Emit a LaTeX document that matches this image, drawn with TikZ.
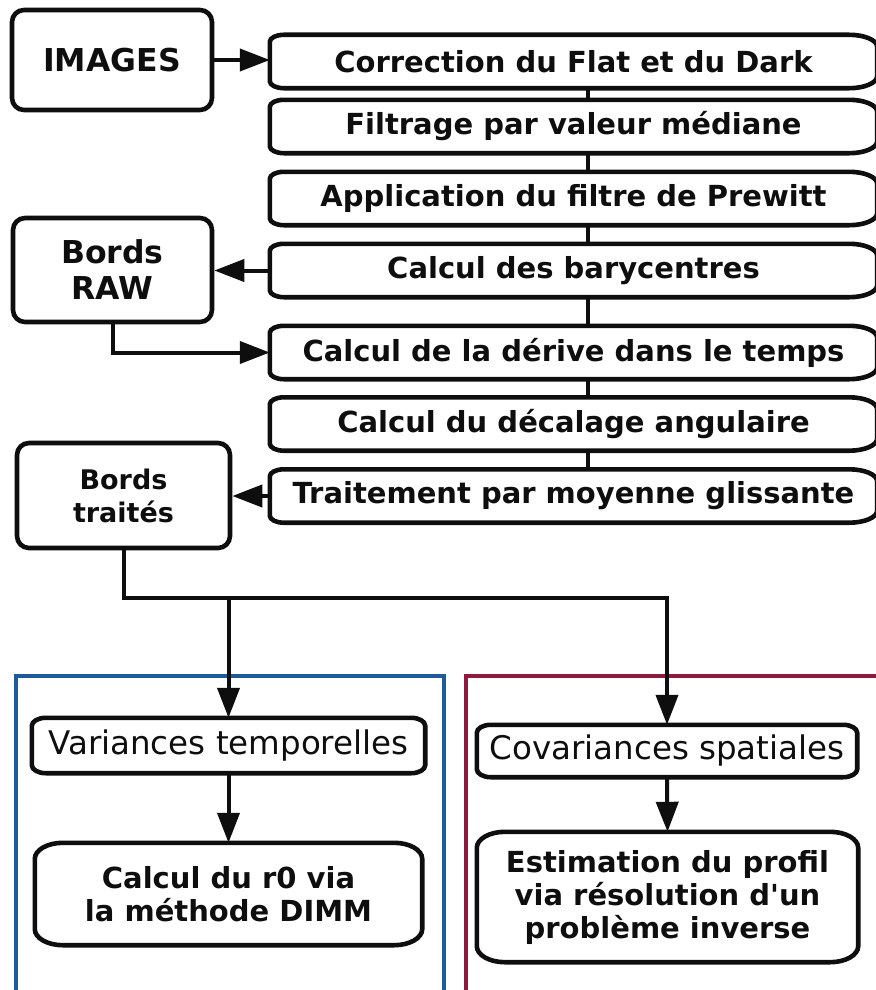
\documentclass[tikz,border=0pt]{standalone}
\usepackage{fontspec}
\newfontfamily\dv{DejaVu Sans}
\usetikzlibrary{arrows.meta,calc}
\definecolor{frblue}{HTML}{1F5A9C}
\definecolor{frred}{HTML}{8E1B3E}
\definecolor{ink}{HTML}{0E0E0E}
% shape with elliptic corners: name, left rx, left ry, right rx, right ry
\newcommand\scrollshape[5]{%
  \draw[boxline] let \p1=(#1.north west), \p2=(#1.south east) in
   (\x1,\y2+#3) -- (\x1,\y1-#3)
   .. controls (\x1,\y1-0.45*#3) and (\x1+0.45*#2,\y1) .. (\x1+#2,\y1)
   -- (\x2-#4,\y1)
   .. controls (\x2-0.45*#4,\y1) and (\x2,\y1-0.45*#5) .. (\x2,\y1-#5)
   -- (\x2,\y2+#5)
   .. controls (\x2,\y2+0.45*#5) and (\x2-0.45*#4,\y2) .. (\x2-#4,\y2)
   -- (\x1+#2,\y2)
   .. controls (\x1+0.45*#2,\y2) and (\x1,\y2+0.45*#3) .. cycle;}
\begin{document}
\begin{tikzpicture}[x=1pt,y=-1pt,
  every node/.style={inner sep=0pt},
  boxline/.style={draw=ink,line width=4.6pt},
  lbl/.style={text=ink,align=center},
  proc/.style={lbl,minimum width=607pt,minimum height=53pt,font=\dv\bfseries\fontsize{29}{33}\selectfont},
  sidebox/.style={lbl,boxline,rounded corners=12pt},
  soft/.style={lbl,font=\dv\fontsize{32.5}{36}\selectfont},
  res/.style={lbl,font=\dv\bfseries\fontsize{29}{33}\selectfont},
  conn/.style={draw=ink,line width=4pt},
  tip/.style={-{Triangle[length=30pt,width=22pt]}},
  frame/.style={line width=3.6pt}]
\useasboundingbox (0,0) rectangle (875,990);

% frames
\draw[frame,frblue] (444,1005) -- (444,676) -- (16,676) -- (16,1005);
\draw[frame,frred] (466,1005) -- (466,676) -- (880,676);

% left boxes
\node[sidebox,minimum width=200pt,minimum height=100pt,font=\dv\bfseries\fontsize{31.5}{36}\selectfont] (img) at (112,60) {IMAGES};
\node[sidebox,minimum width=199pt,minimum height=104pt,font=\dv\bfseries\fontsize{31.5}{36}\selectfont] (raw) at (112.5,270) {Bords\\RAW};
\node[sidebox,minimum width=213pt,minimum height=105pt,font=\dv\bfseries\fontsize{27}{33}\selectfont] (tr) at (123.5,495.5) {Bords\\traités};

% process chain
\node[proc] (p1) at (573.5,61.5) {Correction du Flat et du Dark};
\node[proc] (p2) at (573.5,126.5) {Filtrage par valeur médiane};
\node[proc] (p3) at (573.5,198.5) {Application du filtre de Prewitt};
\node[proc] (p4) at (573.5,270.5) {Calcul des barycentres};
\node[proc] (p5) at (573.5,352.5) {Calcul de la dérive dans le temps};
\node[proc] (p6) at (573.5,424) {Calcul du décalage angulaire};
\node[proc] (p7) at (573.5,496) {Traitement par moyenne glissante};
\foreach \bx in {p1,p2,p3,p4,p5,p6,p7} {\scrollshape{\bx}{14pt}{7pt}{28pt}{12pt}}

% lower boxes
\node[soft,minimum width=393pt,minimum height=55pt] (var) at (228.5,745.5) {Variances temporelles};
\node[soft,minimum width=380pt,minimum height=52pt] (cov) at (667,751) {Covariances spatiales};
\node[res,minimum width=387pt,minimum height=102pt] (r0) at (228.5,894) {Calcul du r0 via\\la méthode DIMM};
\node[res,minimum width=381pt,minimum height=130pt] (est) at (667.5,897) {Estimation du profil\\via résolution d'un\\problème inverse};
\scrollshape{var}{14pt}{8pt}{14pt}{8pt}
\scrollshape{cov}{14pt}{8pt}{14pt}{8pt}
\scrollshape{r0}{28pt}{16pt}{28pt}{16pt}
\scrollshape{est}{28pt}{16pt}{28pt}{16pt}

% connectors
\coordinate (vx) at (588,0);
\coordinate (hy) at (0,598);
\foreach \a/\b in {p1/p2,p2/p3,p3/p4,p4/p5,p5/p6,p6/p7}
  {\draw[conn] (\a.south -| vx) -- (\b.north -| vx);}
\draw[conn,tip] (img.east) -- (img.east -| p1.west);
\draw[conn,tip] (p4.west) -- (p4.west -| raw.east);
\draw[conn,tip] (raw.south) |- (p5.west);
\draw[conn,tip] (p7.west) -- (p7.west -| tr.east);
\draw[conn,tip] (tr.south) -- (tr.south |- hy) -| (cov.north);
\draw[conn,tip] (var.north |- hy) -- (var.north);
\draw[conn,tip] (var.south) -- (r0.north);
\draw[conn,tip] (cov.south) -- (est.north);
\end{tikzpicture}
\end{document}
